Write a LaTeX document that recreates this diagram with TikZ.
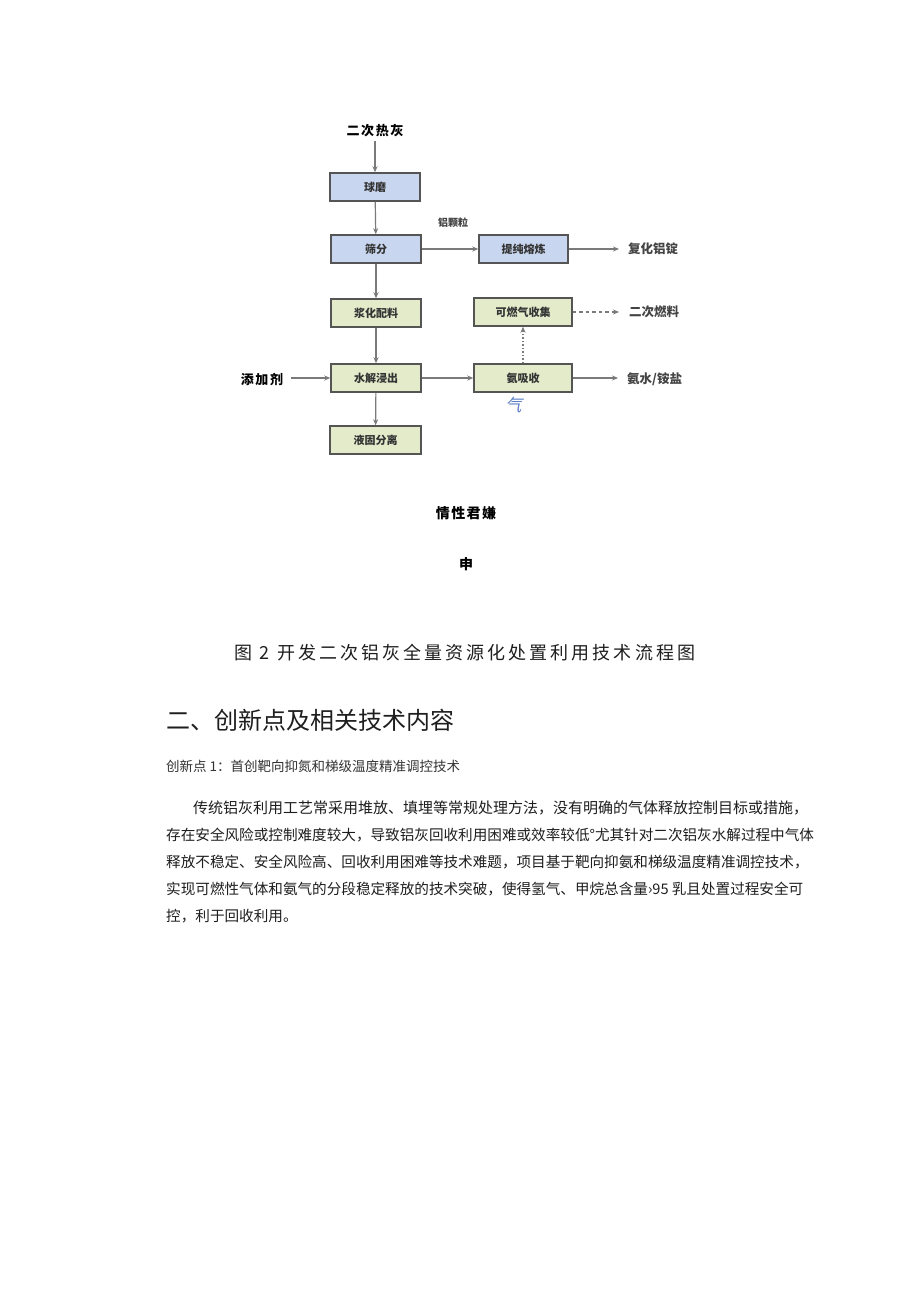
\documentclass[tikz,border=0pt]{standalone}
\usepackage{fontspec}
\setmainfont{Noto Sans CJK SC}
\usetikzlibrary{arrows.meta}
\definecolor{boxblue}{HTML}{C9D6EF}
\definecolor{boxgreen}{HTML}{E4EBCB}
\definecolor{edgec}{HTML}{555555}
\definecolor{linec}{HTML}{7A7A7A}
\definecolor{lbl}{HTML}{333333}
\definecolor{outl}{HTML}{444444}
\definecolor{qiblue}{HTML}{5B7FC4}
\definecolor{bodyc}{HTML}{1E1E1E}
\begin{document}
\begin{tikzpicture}[x=1pt,y=-1pt,
  procbox/.style={draw=edgec, line width=1.5pt, minimum width=90pt, minimum height=28pt, inner sep=0pt, font=\fontsize{11}{13}\selectfont\bfseries, text=lbl},
  bluebox/.style={procbox, fill=boxblue},
  greenbox/.style={procbox, fill=boxgreen},
  outlabel/.style={font=\fontsize{12.5}{15}\selectfont\bfseries, text=outl, inner sep=0pt},
  inlabel/.style={font=\fontsize{13}{15}\selectfont\bfseries\addfontfeatures{LetterSpace=12}, text=black, inner sep=0pt},
  flow/.style={draw=linec, line width=1.2pt, -{Stealth[length=6pt,width=5pt,fill=black!85]}},
  flowdash/.style={flow, dash pattern=on 3.5pt off 3pt},
  flowdot/.style={flow, dash pattern=on 1.5pt off 2pt},
  bodyline/.style={anchor=west, inner sep=0pt, font=\fontsize{14.6}{18}\selectfont, text=bodyc}
]
\useasboundingbox[fill=white] (0,0) rectangle (920,1301);

% process boxes
\node[bluebox] (qm) at (375,187) {球磨};
\node[bluebox] (sf) at (376,249) {筛分};
\node[bluebox, minimum width=89pt] (tc) at (523.5,249) {提纯熔炼};
\node[greenbox] (jh) at (376,313) {浆化配料};
\node[greenbox, minimum width=98pt] (kr) at (523,312) {可燃气收集};
\node[greenbox] (sj) at (376,378) {水解浸出};
\node[greenbox, minimum width=98pt] (aj) at (523,378) {氨吸收};
\node[greenbox, minimum width=91pt] (yg) at (375.5,440) {液固分离};

% outer labels
\node[inlabel] (src) at (375,131) {二次热灰};
\node[inlabel] (tjj) at (262,380) {添加剂};
\node[font=\fontsize{10}{12}\selectfont\bfseries, text=outl, inner sep=0pt] (lkl) at (453,223) {铝颗粒};
\node[outlabel, anchor=west] (fh) at (628,249) {复化铝锭};
\node[outlabel, anchor=west] (ecrl) at (629,312) {二次燃料};
\node[outlabel, anchor=west] (as) at (627,379) {氨水/铵盐};
\node[font=\fontsize{17}{19}\selectfont\addfontfeatures{FakeSlant=0.3}, text=qiblue, inner sep=0pt] (qi) at (513,405) {气};

% connectors
\path (src.south) ++(0,4) coordinate (srcb);
\draw[flow] (srcb) -- (qm.north);
\draw[flow] (qm) -- (sf);
\draw[flow] (sf) -- (jh);
\draw[flow] (jh) -- (sj);
\draw[flow] (sj) -- (yg);
\draw[flow] (sf) -- (tc);
\draw[flow, shorten >=9pt] (tc) -- (fh.west |- tc.east);
\draw[flow] (sj) -- (aj);
\draw[flow, shorten >=9pt] (aj) -- (as.west |- aj.east);
\draw[flowdot] (aj) -- (kr);
\draw[flowdash, shorten >=10pt] (kr) -- (ecrl.west |- kr.east);
\draw[flow, shorten <=8pt] (tjj.east |- sj.west) -- (sj.west);

% lower texts
\node[font=\fontsize{14}{16}\selectfont\bfseries\addfontfeatures{LetterSpace=10}, inner sep=0pt] (t1) at (466,513) {情性君嫌};
\node[font=\fontsize{14}{16}\selectfont\bfseries, inner sep=0pt] (t2) at (466,564) {申};
\node[font=\fontsize{18}{20}\selectfont\addfontfeatures{LetterSpace=17}, text=bodyc, inner sep=0pt] (cap) at (465,653) {图 2 开发二次铝灰全量资源化处置利用技术流程图};
\node[anchor=west, inner sep=0pt, font=\fontsize{24}{28}\selectfont, text=bodyc] (h2) at (166,720) {二、创新点及相关技术内容};
\node[anchor=west, inner sep=0pt, font=\fontsize{13.5}{16}\selectfont, text=lbl] (sub) at (166,766) {创新点 1：首创靶向抑氮和梯级温度精准调控技术};
\node[bodyline, font=\fontsize{15}{18}\selectfont] (p1) at (193,808) {传统铝灰利用工艺常采用堆放、填埋等常规处理方法，没有明确的气体释放控制目标或措施，};
\node[bodyline] (p2) at (166,835) {存在安全风险或控制难度较大，导致铝灰回收利用困难或效率较低°尤其针对二次铝灰水解过程中气体};
\node[bodyline] (p3) at (166,862) {释放不稳定、安全风险高、回收利用困难等技术难题，项目基于靶向抑氨和梯级温度精准调控技术，};
\node[bodyline] (p4) at (166,889) {实现可燃性气体和氨气的分段稳定释放的技术突破，使得氢气、甲烷总含量›95 乳且处置过程安全可};
\node[bodyline] (p5) at (166,916) {控，利于回收利用。};
\end{tikzpicture}
\end{document}
